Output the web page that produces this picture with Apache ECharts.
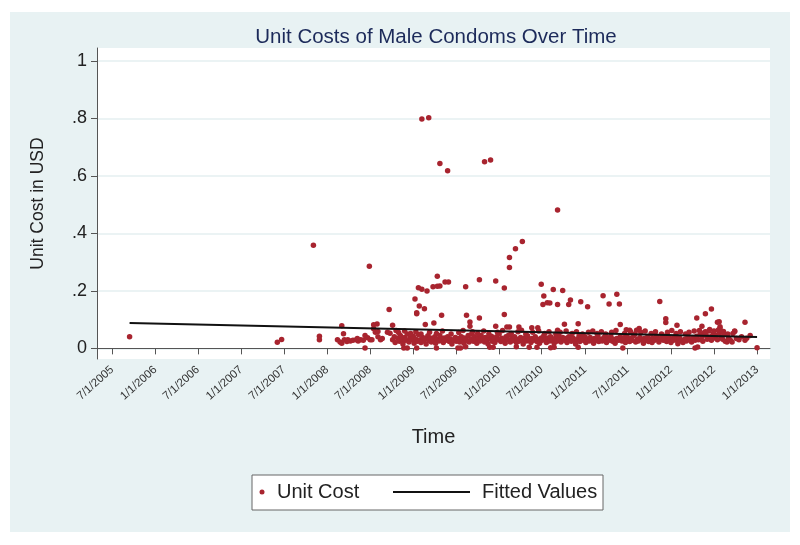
<!DOCTYPE html>
<html>
<head>
<meta charset="utf-8">
<script src="https://cdn.jsdelivr.net/npm/echarts@6/dist/echarts.min.js"></script>
<style>
  html, body { margin: 0; padding: 0; background: #ffffff; }
  #wrap { position: relative; width: 800px; height: 545px; background: #ffffff; }
  #bg { position: absolute; left: 10px; top: 12px; width: 780px; height: 520px; background: #e8f2f3; }
  #chart { position: absolute; left: 0; top: 0; width: 800px; height: 545px; }
</style>
</head>
<body>
<div id="wrap"><div id="bg"></div><div id="chart"></div></div>
<script>
// ---- Data (x = decimal year, y = unit cost in USD) ----
const chartTitle = 'Unit Costs of Male Condoms Over Time';
const yAxisTitle = 'Unit Cost in USD';
const xAxisTitle = 'Time';
const seriesNames = ['Unit Cost', 'Fitted Values'];

const xTickDates = ['2005-07-01','2006-01-01','2006-07-01','2007-01-01','2007-07-01','2008-01-01',
  '2008-07-01','2009-01-01','2009-07-01','2010-01-01','2010-07-01','2011-01-01','2011-07-01',
  '2012-01-01','2012-07-01','2013-01-01'];
const yTickValues = [0, 0.2, 0.4, 0.6, 0.8, 1];

// higher / isolated observations
const costOutliers = [
  [2005.70,0.040],[2007.42,0.021],[2007.47,0.031],[2007.84,0.359],[2007.91,0.042],[2007.91,0.030],
  [2008.49,0.286],[2008.72,0.135],
  [2009.02,0.172],[2009.04,0.124],[2009.04,0.120],[2009.07,0.147],[2009.13,0.138],
  [2009.06,0.211],[2009.10,0.206],[2009.16,0.200],[2009.23,0.214],[2009.28,0.251],[2009.31,0.217],
  [2009.28,0.216],[2009.37,0.231],[2009.41,0.231],
  [2009.10,0.798],[2009.18,0.802],[2009.31,0.643],[2009.40,0.618],[2009.83,0.649],[2009.90,0.655],
  [2010.27,0.372],[2010.19,0.347],[2010.12,0.316],[2010.12,0.281],
  [2009.61,0.214],[2009.77,0.239],[2009.96,0.234],[2010.06,0.210],[2010.49,0.223],
  [2010.06,0.118],[2009.33,0.115],[2009.62,0.115],[2009.77,0.106],
  [2009.24,0.088],[2009.14,0.083],[2009.96,0.077],[2010.12,0.074],[2010.26,0.063],
  [2008.17,0.079],[2008.19,0.051],[2008.54,0.082],[2008.58,0.085],[2008.54,0.068],[2008.76,0.080],
  [2009.66,0.092],[2009.66,0.077],
  [2010.68,0.481],[2010.52,0.182],[2010.51,0.153],[2010.56,0.159],[2010.59,0.158],[2010.63,0.205],
  [2010.68,0.153],[2010.74,0.201],[2010.83,0.168],[2010.81,0.153],[2010.95,0.162],[2011.03,0.145],
  [2011.21,0.183],[2011.28,0.154],[2011.37,0.188],[2011.40,0.154],
  [2011.87,0.163],[2011.94,0.103],[2011.94,0.090],[2012.07,0.080],
  [2012.30,0.106],[2012.40,0.120],[2012.47,0.137],[2012.54,0.091],[2012.56,0.093],[2012.57,0.075],
  [2012.74,0.059],[2012.86,0.091],[2012.86,0.028],[2013.00,0.002],
  [2010.76,0.084],[2010.92,0.086],[2010.68,0.063],[2011.41,0.083],
  [2010.09,0.074],[2010.23,0.074],[2010.38,0.072],[2010.45,0.072],
  [2011.48,0.065],[2011.52,0.063],[2011.60,0.063],[2011.63,0.069],
  [2012.07,0.028],[2012.08,0.016],[2012.36,0.077],[2012.61,0.059],[2012.57,0.069],[2012.74,0.060],[2012.65,0.022],
  [2008.44,0.001],[2008.89,0.001],[2008.93,0.001],[2009.04,0.001],[2009.27,0.001],[2009.52,0.001],
  [2009.55,0.001],[2009.61,0.006],[2009.89,0.004],[2009.93,0.004],[2010.20,0.006],[2010.35,0.004],
  [2010.44,0.004],[2010.60,0.002],[2010.64,0.004],[2010.92,0.004],[2011.44,0.001],[2012.28,0.001],[2012.31,0.005]
];

// dense low band, 2008 - mid 2009
const costBand2008 = [
  [2008.12,0.030],[2008.15,0.022],[2008.17,0.018],[2008.20,0.030],[2008.24,0.030],[2008.27,0.026],
  [2008.30,0.028],[2008.34,0.030],[2008.36,0.026],[2008.39,0.030],[2008.42,0.028],[2008.44,0.045],
  [2008.47,0.037],[2008.50,0.030],[2008.52,0.030],[2008.56,0.056],[2008.59,0.059],[2008.59,0.040],
  [2008.62,0.030],[2008.64,0.034],[2008.70,0.056],[2008.73,0.053],[2008.35,0.034],[2008.23,0.024],
  [2008.76,0.030],[2008.78,0.040],[2008.79,0.020],[2008.80,0.062],[2008.82,0.035],[2008.84,0.025],
  [2008.85,0.045],[2008.87,0.030],[2008.88,0.015],[2008.90,0.038],[2008.91,0.028],[2008.93,0.050],
  [2008.95,0.022],[2008.96,0.035],[2008.98,0.030],[2009.00,0.042],[2009.01,0.018],[2009.03,0.032],
  [2009.05,0.025],[2009.06,0.048],[2009.08,0.030],[2009.09,0.020],[2009.11,0.038],[2009.12,0.026],
  [2009.14,0.034],[2009.15,0.015],[2009.17,0.044],[2009.18,0.028],[2009.20,0.036],[2009.21,0.022],
  [2009.23,0.030],[2009.25,0.040],[2009.26,0.018],[2009.28,0.032],[2009.30,0.026],[2009.31,0.045],
  [2009.33,0.030],[2009.35,0.020],[2009.36,0.036],[2009.38,0.028],[2009.40,0.040],[2009.42,0.024],
  [2009.43,0.033],[2009.45,0.015],[2009.47,0.030],[2009.49,0.038],[2009.50,0.025],[2009.52,0.034],
  [2009.54,0.022],[2009.56,0.040],[2009.57,0.030],[2009.59,0.018],[2009.60,0.036],[2009.62,0.028],
  [2009.64,0.045],[2009.65,0.022]
];

// dense low band, mid 2009 - early 2011
const costBand2010 = [
  [2009.67,0.032],[2009.68,0.050],[2009.70,0.025],[2009.71,0.040],[2009.73,0.030],[2009.74,0.018],
  [2009.76,0.036],[2009.78,0.026],[2009.79,0.045],[2009.81,0.030],[2009.83,0.022],[2009.84,0.038],
  [2009.86,0.028],[2009.87,0.015],[2009.89,0.034],[2009.91,0.042],[2009.92,0.025],[2009.94,0.032],
  [2009.95,0.020],[2009.97,0.040],[2009.99,0.030],[2010.00,0.050],[2010.02,0.024],[2010.03,0.035],
  [2010.05,0.028],[2010.07,0.018],[2010.08,0.040],[2010.10,0.030],[2010.11,0.046],[2010.13,0.022],
  [2010.15,0.034],[2010.16,0.027],[2010.18,0.040],[2010.20,0.020],[2010.21,0.032],[2010.23,0.025],
  [2010.25,0.038],[2010.27,0.030],[2010.28,0.015],[2010.30,0.036],[2010.32,0.026],[2010.33,0.044],
  [2010.35,0.030],[2010.37,0.020],[2010.38,0.034],[2010.40,0.028],[2010.42,0.040],[2010.44,0.024],
  [2010.45,0.032],[2010.47,0.018],[2010.49,0.036],
  [2010.50,0.028],[2010.52,0.044],[2010.54,0.030],[2010.55,0.020],[2010.57,0.036],[2010.59,0.026],
  [2010.60,0.040],[2010.62,0.030],[2010.64,0.018],[2010.65,0.034],[2010.67,0.025],[2010.69,0.045],
  [2010.70,0.030],[2010.72,0.022],[2010.74,0.038],[2010.76,0.028],[2010.77,0.034],[2010.79,0.020],
  [2010.81,0.040],[2010.82,0.030],[2010.84,0.025],[2010.86,0.036],[2010.88,0.028],[2010.89,0.015],
  [2010.91,0.032],[2010.93,0.042],[2010.94,0.024],[2010.96,0.034],[2010.98,0.028]
];

// dense low band, 2011 - 2013
const costBand2012 = [
  [2011.00,0.040],[2011.01,0.020],[2011.03,0.032],[2011.05,0.026],[2011.06,0.038],[2011.08,0.030],
  [2011.10,0.018],[2011.11,0.034],[2011.13,0.028],[2011.15,0.044],[2011.16,0.024],[2011.18,0.032],
  [2011.20,0.026],[2011.22,0.038],[2011.23,0.030],[2011.25,0.020],[2011.27,0.036],[2011.28,0.028],
  [2011.30,0.042],[2011.32,0.025],[2011.33,0.032],[2011.35,0.018],[2011.37,0.034],[2011.39,0.028],
  [2011.41,0.040],[2011.43,0.026],[2011.45,0.034],[2011.47,0.020],[2011.49,0.040],[2011.50,0.030],
  [2011.52,0.024],[2011.54,0.036],[2011.55,0.028],[2011.57,0.045],[2011.59,0.022],[2011.61,0.032],
  [2011.62,0.026],[2011.64,0.038],[2011.66,0.030],[2011.68,0.018],[2011.69,0.034],[2011.71,0.028],
  [2011.73,0.040],[2011.74,0.024],[2011.76,0.032],[2011.78,0.020],[2011.79,0.036],[2011.81,0.028],
  [2011.83,0.042],[2011.85,0.030],[2011.86,0.022],[2011.88,0.034],[2011.90,0.046],[2011.91,0.028],
  [2011.93,0.036],[2011.95,0.024],[2011.97,0.040],[2011.98,0.030],[2012.00,0.020],[2012.02,0.034],
  [2012.03,0.028],[2012.05,0.040],[2012.07,0.030],[2012.09,0.024],[2012.10,0.036],[2012.12,0.028],
  [2012.14,0.020],[2012.16,0.032],[2012.18,0.026],[2012.20,0.040],[2012.22,0.030],[2012.24,0.022],
  [2012.26,0.036],[2012.28,0.028],[2012.30,0.042],
  [2012.32,0.030],[2012.34,0.050],[2012.36,0.040],[2012.37,0.025],[2012.39,0.055],[2012.41,0.045],
  [2012.42,0.032],[2012.44,0.060],[2012.46,0.040],[2012.47,0.028],[2012.49,0.050],[2012.51,0.036],
  [2012.52,0.045],[2012.54,0.030],[2012.56,0.055],[2012.58,0.040],[2012.60,0.032],[2012.62,0.048],
  [2012.63,0.025],[2012.67,0.036],[2012.69,0.028],[2012.71,0.022],[2012.76,0.034],[2012.79,0.030],
  [2012.82,0.040],[2012.88,0.035],[2012.92,0.045]
];

// upper edge of the low band (around the fitted line)
const costBandUpper = [
  [2008.83,0.055],[2008.90,0.060],[2008.97,0.052],[2009.03,0.058],[2009.09,0.050],[2009.19,0.056],
  [2009.27,0.052],[2009.34,0.060],[2009.44,0.050],[2009.53,0.055],[2009.58,0.062],[2009.69,0.058],
  [2009.75,0.052],[2009.82,0.060],[2009.88,0.050],[2009.98,0.056],[2010.04,0.062],[2010.14,0.052],
  [2010.22,0.058],[2010.31,0.050],[2010.39,0.056],[2010.46,0.060],[2010.53,0.052],[2010.58,0.058],
  [2010.66,0.050],[2010.71,0.056],[2010.78,0.060],[2010.85,0.052],[2010.90,0.058],[2010.97,0.050],
  [2011.04,0.056],[2011.09,0.060],[2011.14,0.052],[2011.19,0.058],[2011.24,0.050],[2011.31,0.056],
  [2011.36,0.062],[2011.46,0.052],[2011.53,0.058],[2011.58,0.050],[2011.65,0.056],[2011.70,0.060],
  [2011.77,0.052],[2011.82,0.058],[2011.89,0.050],[2011.96,0.056],[2012.01,0.062],[2012.06,0.052],
  [2012.11,0.058],[2012.17,0.050],[2012.21,0.056],[2012.27,0.060],[2012.33,0.062],[2012.40,0.058],
  [2012.45,0.066],[2012.50,0.060],[2012.55,0.064],[2012.59,0.058],[2012.66,0.050],[2012.72,0.052]
];

// fitted regression line end points
const fittedLine = [[2005.70, 0.088], [2013.00, 0.0394]];

// ---- helpers ----
function yearToTime(y) {
  const yr = Math.floor(y);
  const s = Date.UTC(yr, 0, 1), e = Date.UTC(yr + 1, 0, 1);
  return s + (y - yr) * (e - s);
}
function dateStrToTime(s) {
  const p = s.split('-').map(Number);
  return Date.UTC(p[0], p[1] - 1, p[2]);
}
const toPts = arr => arr.map(d => [yearToTime(d[0]), d[1]]);
const costData = toPts(costOutliers).concat(toPts(costBand2008), toPts(costBand2010),
  toPts(costBand2012), toPts(costBandUpper));
const fitData = toPts(fittedLine);
const xTicks = xTickDates.map(dateStrToTime);

const font = '"Liberation Sans", Arial, Helvetica, sans-serif';
const chart = echarts.init(document.getElementById('chart'), null, { renderer: 'canvas' });
chart.setOption({
  backgroundColor: 'transparent',
  animation: false,
  textStyle: { fontFamily: font },
  title: {
    text: chartTitle, left: 436, top: 27, textAlign: 'center', padding: 0,
    textStyle: { fontFamily: font, fontSize: 20.5, fontWeight: 'normal', color: '#1c2a5a' }
  },
  grid: {
    left: 97, top: 48, width: 673, height: 311, show: true,
    backgroundColor: '#ffffff', borderWidth: 0
  },
  xAxis: {
    type: 'value',
    min: Date.UTC(2005, 3, 28), max: Date.UTC(2013, 1, 25),
    name: xAxisTitle, nameLocation: 'middle', nameGap: 68,
    nameTextStyle: { fontFamily: font, fontSize: 20, color: '#222' },
    axisLine: { show: true, lineStyle: { color: '#555', width: 1 } },
    axisTick: { show: true, length: 6, lineStyle: { color: '#555' }, customValues: xTicks },
    axisLabel: {
      customValues: xTicks, rotate: 42, margin: 9, fontSize: 11.5, color: '#333', fontFamily: font,
      hideOverlap: false, showMinLabel: true, showMaxLabel: true,
      formatter: function (v) {
        const d = new Date(v);
        return (d.getUTCMonth() + 1) + '/' + d.getUTCDate() + '/' + d.getUTCFullYear();
      }
    },
    splitLine: { show: false }
  },
  yAxis: {
    type: 'value', min: -0.037, max: 1.045,
    name: yAxisTitle, nameLocation: 'middle', nameGap: 50,
    nameTextStyle: { fontFamily: font, fontSize: 17.5, color: '#222' },
    axisLine: { show: true, lineStyle: { color: '#555', width: 1 } },
    axisTick: { show: true, length: 6, lineStyle: { color: '#555' }, customValues: yTickValues },
    axisLabel: {
      customValues: yTickValues, margin: 10, fontSize: 18, color: '#222', fontFamily: font,
      formatter: function (v) {
        if (Math.abs(v) < 1e-9) return '0';
        if (Math.abs(v - 1) < 1e-9) return '1';
        return v.toFixed(1).replace(/^0\./, '.');
      }
    },
    splitLine: { show: true, lineStyle: { color: '#e5eff1', width: 1.5 } }
  },
  legend: [
    {
      data: [{ name: seriesNames[0], icon: 'circle' }], left: 259.5, top: 482, padding: 0,
      itemWidth: 5, itemHeight: 5,
      textStyle: { fontFamily: font, fontSize: 20, color: '#222', padding: [0, 0, 0, 7.5] }
    },
    {
      data: [{ name: seriesNames[1], icon: 'rect' }], left: 393, top: 482, padding: 0,
      itemWidth: 77, itemHeight: 2,
      textStyle: { fontFamily: font, fontSize: 20, color: '#222', padding: [0, 0, 0, 7] }
    }
  ],
  graphic: [
    {
      type: 'rect', z: 0, silent: true,
      shape: { x: 252, y: 475, width: 351, height: 35 },
      style: { fill: '#ffffff', stroke: '#666', lineWidth: 1 }
    }
  ],
  series: [
    {
      name: seriesNames[0], type: 'scatter', data: costData,
      symbol: 'circle', symbolSize: 5.5,
      itemStyle: { color: '#a8242f', opacity: 1 },
      z: 3
    },
    {
      name: seriesNames[1], type: 'line', data: fitData,
      symbol: 'none', showSymbol: false,
      lineStyle: { color: '#111', width: 2 },
      itemStyle: { color: '#111' },
      z: 4
    }
  ]
});
</script>
</body>
</html>
